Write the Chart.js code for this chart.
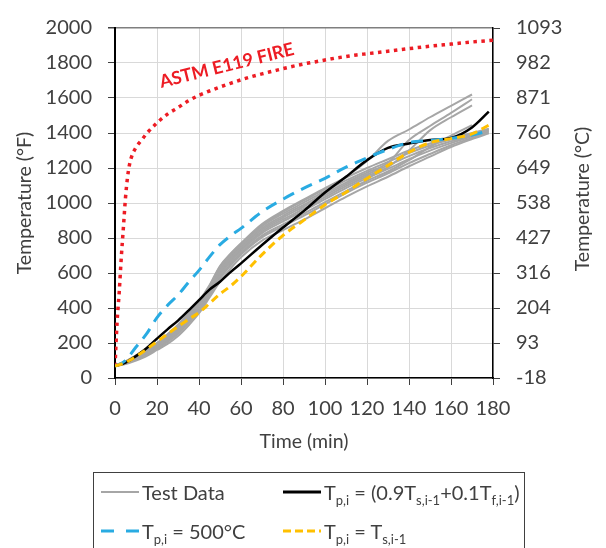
<!DOCTYPE html>
<html><head><meta charset="utf-8">
<script src="https://cdn.jsdelivr.net/npm/chart.js@4"></script>
<style>
html,body{margin:0;padding:0;background:#fff;}
#wrap{position:relative;width:606px;height:548px;overflow:hidden;background:#fff;}
#chart{position:absolute;left:0;top:0;}
#legend{position:absolute;left:93px;top:472px;width:432px;height:95px;border:1.5px solid #404040;box-sizing:border-box;
  font-family:Lato,'Open Sans',sans-serif;font-size:20px;color:#404040;}
.item{position:absolute;display:flex;align-items:center;white-space:nowrap;height:26px;}
.item svg{margin-right:3px;}
.sub{font-size:13px;position:relative;top:5px;}
</style></head>
<body>
<div id="wrap">
<canvas id="chart" width="606" height="548"></canvas>
<div id="legend">
  <div class="item" style="left:7px;top:6px;"><svg width="38" height="10"><line x1="0" y1="5" x2="38" y2="5" stroke="#a6a6a6" stroke-width="2"/></svg><span>Test Data</span></div>
  <div class="item" style="left:189px;top:6px;"><svg width="38" height="10"><line x1="0" y1="5" x2="38" y2="5" stroke="#000" stroke-width="3"/></svg><span>T<span class="sub">p,i</span> = (0.9T<span class="sub">s,i-1</span>+0.1T<span class="sub">f,i-1</span>)</span></div>
  <div class="item" style="left:7px;top:45px;"><svg width="38" height="10"><line x1="0" y1="5" x2="38" y2="5" stroke="#29abe2" stroke-width="3" stroke-dasharray="13 12"/></svg><span>T<span class="sub">p,i</span> = 500°C</span></div>
  <div class="item" style="left:189px;top:45px;"><svg width="38" height="10"><line x1="0" y1="5" x2="38" y2="5" stroke="#ffc000" stroke-width="3" stroke-dasharray="8 4"/></svg><span>T<span class="sub">p,i</span> = T<span class="sub">s,i-1</span></span></div>
</div>
</div>
<script>
// ---------- data ----------
const timeAstm = [0,1,2,3,4,5,6,7,8,10,12.5,15,20,25,30,35,40,45,50,55,60,65,70,75,80,85,90,95,100,105,110,115,120,130,140,150,160,170,180];
const tempAstm = [68,320,490,690,860,1030,1150,1225,1268,1318,1357,1396,1458,1508,1545,1584,1615,1640,1663,1684,1704,1722,1738,1753,1768,1782,1795,1806,1817,1828,1837,1846,1853,1867,1882,1896,1908,1920,1930];

const timeModel = [0,5,10,15,20,25,30,35,40,45,50,55,60,70,80,90,100,110,120,130,140,150,160,170,178];
const tempMixed = [68,88,125,170,225,278,328,385,445,505,550,605,655,760,860,955,1060,1150,1245,1315,1340,1360,1372,1432,1522];
const temp500C  = [68,100,177,252,345,415,474,547,615,692,762,812,855,950,1022,1085,1141,1205,1258,1306,1345,1357,1370,1388,1413];
const tempPrev  = [68,88,123,164,208,251,294,335,374,426,480,525,580,705,815,902,990,1062,1140,1215,1290,1345,1368,1395,1445];

const timeTest = [0,5,10,15,20,25,30,35,40,45,50,55,60,70,80,90,100,110,120,130,140,150,160,170,178];
const test1 = [68,80,100,125,160,195,240,300,370,460,550,625,690,785,845,905,970,1035,1095,1150,1210,1265,1320,1365,1398];
const test2 = [69,83,106,133,168,206,253,314,384,474,568,642,706,804,867,928,993,1057,1116,1170,1228,1280,1330,1372,1403];
const test3 = [70,87,114,143,178,220,269,332,402,492,590,663,726,828,895,957,1022,1085,1142,1195,1250,1299,1342,1381,1410];
const test4 = [71,90,120,151,186,231,282,346,416,506,609,680,742,847,917,980,1045,1107,1163,1215,1268,1314,1352,1388,1416];
const test5 = [71,93,126,159,194,242,295,360,430,520,627,697,758,866,939,1003,1068,1129,1184,1235,1286,1329,1363,1395,1421];
const test6 = [72,95,130,165,200,250,305,370,440,530,640,710,770,880,955,1020,1085,1145,1200,1250,1300,1340,1370,1400,1425];
const test7 = [72,94,128,163,198,247,302,366,436,526,636,706,766,873,950,1015,1080,1150,1240,1355,1420,1490,1555,1620,null];
const test8 = [71,91,123,155,190,236,289,352,422,512,617,689,750,856,927,991,1056,1117,1174,1230,1360,1440,1515,1593,null];
const test9 = [70,88,117,147,182,225,276,339,409,500,600,672,734,837,906,968,1033,1096,1153,1205,1300,1415,1490,1558,null];
const test10 = [69,85,109,137,172,212,260,321,391,481,577,650,714,814,878,940,1005,1068,1127,1180,1245,1320,1385,1445,null];
const testSeries = [test1,test2,test3,test4,test5,test6,test7,test8,test9,test10];

const xTicks = {min:0, max:180, step:20};
const yTicks = {min:0, max:2000, step:200};

// ---------- style ----------
const FONT = "Lato, 'Open Sans', sans-serif";
const TEXT = '#404040';
const astmLabel = {text:'ASTM E119 FIRE', x:53.2, y:1785, angle:-14, color:'#ed1c24'};

function pts(xs, ys){ const out=[]; for(let i=0;i<xs.length;i++){ if(ys[i]!==null && ys[i]!==undefined) out.push({x:xs[i], y:ys[i]}); } return out; }

const base = {pointRadius:0, pointHoverRadius:0, fill:false, cubicInterpolationMode:'monotone'};
const datasets = [
  Object.assign({label:'Tp,i = Ts,i-1', data:pts(timeModel,tempPrev), borderColor:'#ffc000', borderWidth:3, borderDash:[8,5]}, base),
  Object.assign({label:'Tp,i = 500°C', data:pts(timeModel,temp500C), borderColor:'#29abe2', borderWidth:3, borderDash:[12,8]}, base),
  Object.assign({label:'Tp,i = (0.9Ts,i-1+0.1Tf,i-1)', data:pts(timeModel,tempMixed), borderColor:'#000000', borderWidth:2.5}, base),
];
testSeries.forEach((s,i)=>{
  datasets.push(Object.assign({label: i===0?'Test Data':'Test Data '+(i+1), data:pts(timeTest,s), borderColor:'#a6a6a6', borderWidth:2}, base));
});
datasets.push(Object.assign({label:'ASTM E119 FIRE', data:pts(timeAstm,tempAstm), borderColor:astmLabel.color, borderWidth:3.5, borderDash:[3.5,4.5], borderCapStyle:'butt'}, base));

const overlay = {
  id:'overlay',
  beforeDraw(chart){ const c=chart.ctx; c.save(); c.fillStyle='#fff'; c.fillRect(0,0,chart.width,chart.height); c.restore(); },
  afterDatasetsDraw(chart){
    const {ctx, scales} = chart;
    ctx.save();
    ctx.translate(scales.x.getPixelForValue(astmLabel.x), scales.y.getPixelForValue(astmLabel.y));
    ctx.rotate(astmLabel.angle*Math.PI/180);
    ctx.font = 'bold 18px ' + FONT;
    ctx.fillStyle = astmLabel.color;
    ctx.textAlign='center'; ctx.textBaseline='middle';
    ctx.fillText(astmLabel.text, 0, 0);
    ctx.restore();
  },
  afterDraw(chart){
    const {ctx, chartArea} = chart;
    const s = chart.scales.y2;
    ctx.save();
    ctx.translate(s.right - 23, (chartArea.top+chartArea.bottom)/2 - 4);
    ctx.rotate(-Math.PI/2);
    ctx.font = '19.5px ' + FONT;
    ctx.fillStyle = TEXT;
    ctx.textAlign='center'; ctx.textBaseline='middle';
    ctx.fillText('Temperature (°C)', 0, 0);
    ctx.restore();
  }
};

new Chart(document.getElementById('chart'), {
  type:'line',
  data:{datasets},
  options:{
    responsive:false, animation:false, devicePixelRatio:1,
    layout:{padding:{top:18, bottom:90, left:0, right:0}},
    plugins:{legend:{display:false}, tooltip:{enabled:false}},
    scales:{
      x:{type:'linear', min:xTicks.min, max:xTicks.max,
        ticks:{stepSize:xTicks.step, padding:12, color:TEXT, font:{family:FONT, size:20}, callback:v=>String(v)},
        grid:{color:'#d9d9d9', lineWidth:1, tickLength:7, tickColor:'#404040'},
        border:{color:'#000', width:1.5},
        title:{display:true, text:'Time (min)', color:TEXT, font:{family:FONT, size:19.5}, padding:5},
        afterFit:s=>{s.height=80;}},
      y:{type:'linear', position:'left', min:yTicks.min, max:yTicks.max,
        ticks:{stepSize:yTicks.step, padding:16, color:TEXT, font:{family:FONT, size:20}, callback:v=>String(v)},
        grid:{color:c=> (c.tick && c.tick.value===yTicks.max) ? '#7f7f7f' : '#d9d9d9',
              lineWidth:c=> (c.tick && c.tick.value===yTicks.max) ? 1.5 : 1,
              tickLength:7, tickColor:'#404040'},
        border:{color:'#000', width:2},
        title:{display:true, text:'Temperature (°F)', color:TEXT, font:{family:FONT, size:19.5}, padding:13},
        afterFit:s=>{s.width=115;}},
      y2:{type:'linear', position:'right', min:yTicks.min, max:yTicks.max,
        ticks:{stepSize:yTicks.step, padding:16, color:TEXT, font:{family:FONT, size:20},
               callback:v=>String(Math.round((v-32)*5/9))},
        grid:{drawOnChartArea:false, tickLength:7, tickColor:'#404040'},
        border:{color:'#000', width:1.5},
        afterFit:s=>{s.width=113;}}
    }
  },
  plugins:[overlay]
});
</script>
</body></html>
